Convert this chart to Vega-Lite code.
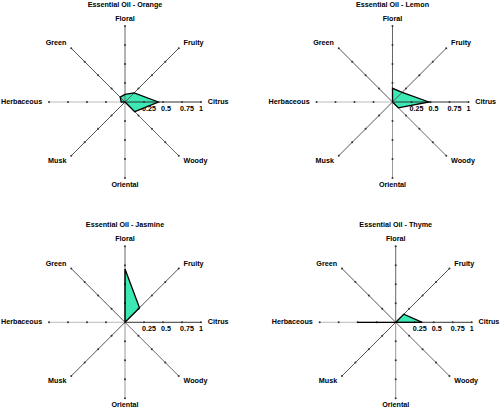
{
  "$schema": "https://vega.github.io/schema/vega-lite/v6.json",
  "padding": 0,
  "datasets": {
    "oils": [
      {"oil": "Orange", "attribute": "Citrus", "value": 0.44},
      {"oil": "Orange", "attribute": "Fruity", "value": 0.17},
      {"oil": "Orange", "attribute": "Floral", "value": 0.1},
      {"oil": "Orange", "attribute": "Green", "value": 0.09},
      {"oil": "Orange", "attribute": "Herbaceous", "value": 0.05},
      {"oil": "Orange", "attribute": "Musk", "value": 0},
      {"oil": "Orange", "attribute": "Oriental", "value": 0},
      {"oil": "Orange", "attribute": "Woody", "value": 0.18},
      {"oil": "Lemon", "attribute": "Citrus", "value": 0.48},
      {"oil": "Lemon", "attribute": "Fruity", "value": 0.18},
      {"oil": "Lemon", "attribute": "Floral", "value": 0.18},
      {"oil": "Lemon", "attribute": "Green", "value": 0},
      {"oil": "Lemon", "attribute": "Herbaceous", "value": 0},
      {"oil": "Lemon", "attribute": "Musk", "value": 0},
      {"oil": "Lemon", "attribute": "Oriental", "value": 0},
      {"oil": "Lemon", "attribute": "Woody", "value": 0.11},
      {"oil": "Jasmine", "attribute": "Citrus", "value": 0},
      {"oil": "Jasmine", "attribute": "Fruity", "value": 0.27},
      {"oil": "Jasmine", "attribute": "Floral", "value": 0.7},
      {"oil": "Jasmine", "attribute": "Green", "value": 0},
      {"oil": "Jasmine", "attribute": "Herbaceous", "value": 0},
      {"oil": "Jasmine", "attribute": "Musk", "value": 0},
      {"oil": "Jasmine", "attribute": "Oriental", "value": 0},
      {"oil": "Jasmine", "attribute": "Woody", "value": 0},
      {"oil": "Thyme", "attribute": "Citrus", "value": 0.35},
      {"oil": "Thyme", "attribute": "Fruity", "value": 0.15},
      {"oil": "Thyme", "attribute": "Floral", "value": 0},
      {"oil": "Thyme", "attribute": "Green", "value": 0},
      {"oil": "Thyme", "attribute": "Herbaceous", "value": 0.5},
      {"oil": "Thyme", "attribute": "Musk", "value": 0},
      {"oil": "Thyme", "attribute": "Oriental", "value": 0},
      {"oil": "Thyme", "attribute": "Woody", "value": 0}
    ],
    "spokes": [
      {"attribute": "Citrus", "r": [0.25, 0.5, 0.75, 1]},
      {"attribute": "Fruity", "r": [0.25, 0.5, 0.75, 1]},
      {"attribute": "Floral", "r": [0.25, 0.5, 0.75, 1]},
      {"attribute": "Green", "r": [0.25, 0.5, 0.75, 1]},
      {"attribute": "Herbaceous", "r": [0.25, 0.5, 0.75, 1]},
      {"attribute": "Musk", "r": [0.25, 0.5, 0.75, 1]},
      {"attribute": "Oriental", "r": [0.25, 0.5, 0.75, 1]},
      {"attribute": "Woody", "r": [0.25, 0.5, 0.75, 1]}
    ]
  },
  "columns": 2,
  "spacing": {"row": 40, "column": 0},
  "bounds": "flush",
  "concat": [
    {
      "width": 250,
      "height": 180,
      "title": {"text": "Essential Oil - Orange", "offset": 4},
      "encoding": {
        "x": {"field": "x", "type": "quantitative", "scale": {"domain": [-1.6447, 1.6447], "nice": false, "zero": false}, "axis": null},
        "y": {"field": "y", "type": "quantitative", "scale": {"domain": [-1.1842, 1.1842], "nice": false, "zero": false}, "axis": null}
      },
      "layer": [
        {
          "data": {"name": "spokes"},
          "transform": [
            {"flatten": ["r"]},
            {"filter": "datum.attribute == 'Citrus'"},
            {"calculate": "datum.r", "as": "x"},
            {"calculate": "0", "as": "y"}
          ],
          "mark": {"type": "text", "align": "left", "baseline": "top", "dx": -2, "dy": 3},
          "encoding": {"text": {"field": "r", "type": "quantitative", "format": ".2~f"}}
        },
        {
          "data": {"name": "oils"},
          "transform": [
            {"filter": "datum.oil == 'Orange'"},
            {"calculate": "indexof(['Citrus','Fruity','Floral','Green','Herbaceous','Musk','Oriental','Woody'], datum.attribute) * PI / 4", "as": "angle"},
            {"calculate": "datum.value * cos(datum.angle)", "as": "x"},
            {"calculate": "datum.value * sin(datum.angle)", "as": "y"}
          ],
          "mark": {"type": "line", "interpolate": "linear-closed", "fill": "#3ce8b4", "strokeOpacity": 0},
          "encoding": {"order": {"field": "angle", "type": "quantitative"}}
        },
        {
          "data": {"name": "spokes"},
          "transform": [
            {"calculate": "indexof(['Citrus','Fruity','Floral','Green','Herbaceous','Musk','Oriental','Woody'], datum.attribute) * PI / 4", "as": "angle"},
            {"calculate": "cos(datum.angle)", "as": "x"},
            {"calculate": "sin(datum.angle)", "as": "y"}
          ],
          "mark": {"type": "rule", "strokeWidth": 1},
          "encoding": {
            "x2": {"datum": 0},
            "y2": {"datum": 0},
            "color": {"field": "attribute", "type": "nominal", "legend": null, "scale": {"domain": ["Citrus", "Fruity", "Floral", "Green", "Herbaceous", "Musk", "Oriental", "Woody"], "range": ["#333333", "#555555", "#666666", "#555555", "#bbbbbb", "#555555", "#999999", "#666666"]}}
          }
        },
        {
          "data": {"name": "spokes"},
          "transform": [
            {"flatten": ["r"]},
            {"calculate": "indexof(['Citrus','Fruity','Floral','Green','Herbaceous','Musk','Oriental','Woody'], datum.attribute) * PI / 4", "as": "angle"},
            {"calculate": "datum.r * cos(datum.angle)", "as": "x"},
            {"calculate": "datum.r * sin(datum.angle)", "as": "y"}
          ],
          "mark": {"type": "point", "filled": true, "size": 4, "color": "#333333", "opacity": 1}
        },
        {
          "data": {"name": "oils"},
          "transform": [
            {"filter": "datum.oil == 'Orange'"},
            {"calculate": "indexof(['Citrus','Fruity','Floral','Green','Herbaceous','Musk','Oriental','Woody'], datum.attribute) * PI / 4", "as": "angle"},
            {"calculate": "datum.value * cos(datum.angle)", "as": "x"},
            {"calculate": "datum.value * sin(datum.angle)", "as": "y"}
          ],
          "mark": {"type": "line", "interpolate": "linear-closed", "stroke": "black", "strokeWidth": 1.3},
          "encoding": {"order": {"field": "angle", "type": "quantitative"}}
        },
        {
          "data": {"name": "spokes"},
          "transform": [
            {"calculate": "indexof(['Citrus','Fruity','Floral','Green','Herbaceous','Musk','Oriental','Woody'], datum.attribute) * PI / 4", "as": "angle"},
            {"calculate": "1.09 * cos(datum.angle)", "as": "x"},
            {"calculate": "1.09 * sin(datum.angle)", "as": "y"}
          ],
          "mark": {"type": "text", "baseline": "middle", "clip": true, "align": {"expr": "datum.x > 0.1 ? 'left' : datum.x < -0.1 ? 'right' : 'center'"}},
          "encoding": {"text": {"field": "attribute", "type": "nominal"}}
        }
      ]
    },
    {
      "width": 250,
      "height": 180,
      "title": {"text": "Essential Oil - Lemon", "offset": 4, "dx": 17.5},
      "encoding": {
        "x": {"field": "x", "type": "quantitative", "scale": {"domain": [-1.875, 1.4145], "nice": false, "zero": false}, "axis": null},
        "y": {"field": "y", "type": "quantitative", "scale": {"domain": [-1.1842, 1.1842], "nice": false, "zero": false}, "axis": null}
      },
      "layer": [
        {
          "data": {"name": "spokes"},
          "transform": [
            {"flatten": ["r"]},
            {"filter": "datum.attribute == 'Citrus'"},
            {"calculate": "datum.r", "as": "x"},
            {"calculate": "0", "as": "y"}
          ],
          "mark": {"type": "text", "align": "left", "baseline": "top", "dx": -2, "dy": 3},
          "encoding": {"text": {"field": "r", "type": "quantitative", "format": ".2~f"}}
        },
        {
          "data": {"name": "oils"},
          "transform": [
            {"filter": "datum.oil == 'Lemon'"},
            {"calculate": "indexof(['Citrus','Fruity','Floral','Green','Herbaceous','Musk','Oriental','Woody'], datum.attribute) * PI / 4", "as": "angle"},
            {"calculate": "datum.value * cos(datum.angle)", "as": "x"},
            {"calculate": "datum.value * sin(datum.angle)", "as": "y"}
          ],
          "mark": {"type": "line", "interpolate": "linear-closed", "fill": "#3ce8b4", "strokeOpacity": 0},
          "encoding": {"order": {"field": "angle", "type": "quantitative"}}
        },
        {
          "data": {"name": "spokes"},
          "transform": [
            {"calculate": "indexof(['Citrus','Fruity','Floral','Green','Herbaceous','Musk','Oriental','Woody'], datum.attribute) * PI / 4", "as": "angle"},
            {"calculate": "cos(datum.angle)", "as": "x"},
            {"calculate": "sin(datum.angle)", "as": "y"}
          ],
          "mark": {"type": "rule", "strokeWidth": 1},
          "encoding": {
            "x2": {"datum": 0},
            "y2": {"datum": 0},
            "color": {"field": "attribute", "type": "nominal", "legend": null, "scale": {"domain": ["Citrus", "Fruity", "Floral", "Green", "Herbaceous", "Musk", "Oriental", "Woody"], "range": ["#333333", "#555555", "#666666", "#555555", "#bbbbbb", "#555555", "#999999", "#666666"]}}
          }
        },
        {
          "data": {"name": "spokes"},
          "transform": [
            {"flatten": ["r"]},
            {"calculate": "indexof(['Citrus','Fruity','Floral','Green','Herbaceous','Musk','Oriental','Woody'], datum.attribute) * PI / 4", "as": "angle"},
            {"calculate": "datum.r * cos(datum.angle)", "as": "x"},
            {"calculate": "datum.r * sin(datum.angle)", "as": "y"}
          ],
          "mark": {"type": "point", "filled": true, "size": 4, "color": "#333333", "opacity": 1}
        },
        {
          "data": {"name": "oils"},
          "transform": [
            {"filter": "datum.oil == 'Lemon'"},
            {"calculate": "indexof(['Citrus','Fruity','Floral','Green','Herbaceous','Musk','Oriental','Woody'], datum.attribute) * PI / 4", "as": "angle"},
            {"calculate": "datum.value * cos(datum.angle)", "as": "x"},
            {"calculate": "datum.value * sin(datum.angle)", "as": "y"}
          ],
          "mark": {"type": "line", "interpolate": "linear-closed", "stroke": "black", "strokeWidth": 1.3},
          "encoding": {"order": {"field": "angle", "type": "quantitative"}}
        },
        {
          "data": {"name": "spokes"},
          "transform": [
            {"calculate": "indexof(['Citrus','Fruity','Floral','Green','Herbaceous','Musk','Oriental','Woody'], datum.attribute) * PI / 4", "as": "angle"},
            {"calculate": "1.09 * cos(datum.angle)", "as": "x"},
            {"calculate": "1.09 * sin(datum.angle)", "as": "y"}
          ],
          "mark": {"type": "text", "baseline": "middle", "clip": true, "align": {"expr": "datum.x > 0.1 ? 'left' : datum.x < -0.1 ? 'right' : 'center'"}},
          "encoding": {"text": {"field": "attribute", "type": "nominal"}}
        }
      ]
    },
    {
      "width": 250,
      "height": 177,
      "title": {"text": "Essential Oil - Jasmine", "offset": 4},
      "encoding": {
        "x": {"field": "x", "type": "quantitative", "scale": {"domain": [-1.6447, 1.6447], "nice": false, "zero": false}, "axis": null},
        "y": {"field": "y", "type": "quantitative", "scale": {"domain": [-1.141, 1.188], "nice": false, "zero": false}, "axis": null}
      },
      "layer": [
        {
          "data": {"name": "spokes"},
          "transform": [
            {"flatten": ["r"]},
            {"filter": "datum.attribute == 'Citrus'"},
            {"calculate": "datum.r", "as": "x"},
            {"calculate": "0", "as": "y"}
          ],
          "mark": {"type": "text", "align": "left", "baseline": "top", "dx": -2, "dy": 3},
          "encoding": {"text": {"field": "r", "type": "quantitative", "format": ".2~f"}}
        },
        {
          "data": {"name": "oils"},
          "transform": [
            {"filter": "datum.oil == 'Jasmine'"},
            {"calculate": "indexof(['Citrus','Fruity','Floral','Green','Herbaceous','Musk','Oriental','Woody'], datum.attribute) * PI / 4", "as": "angle"},
            {"calculate": "datum.value * cos(datum.angle)", "as": "x"},
            {"calculate": "datum.value * sin(datum.angle)", "as": "y"}
          ],
          "mark": {"type": "line", "interpolate": "linear-closed", "fill": "#3ce8b4", "strokeOpacity": 0},
          "encoding": {"order": {"field": "angle", "type": "quantitative"}}
        },
        {
          "data": {"name": "spokes"},
          "transform": [
            {"calculate": "indexof(['Citrus','Fruity','Floral','Green','Herbaceous','Musk','Oriental','Woody'], datum.attribute) * PI / 4", "as": "angle"},
            {"calculate": "cos(datum.angle)", "as": "x"},
            {"calculate": "sin(datum.angle)", "as": "y"}
          ],
          "mark": {"type": "rule", "strokeWidth": 1},
          "encoding": {
            "x2": {"datum": 0},
            "y2": {"datum": 0},
            "color": {"field": "attribute", "type": "nominal", "legend": null, "scale": {"domain": ["Citrus", "Fruity", "Floral", "Green", "Herbaceous", "Musk", "Oriental", "Woody"], "range": ["#333333", "#555555", "#666666", "#555555", "#bbbbbb", "#555555", "#999999", "#666666"]}}
          }
        },
        {
          "data": {"name": "spokes"},
          "transform": [
            {"flatten": ["r"]},
            {"calculate": "indexof(['Citrus','Fruity','Floral','Green','Herbaceous','Musk','Oriental','Woody'], datum.attribute) * PI / 4", "as": "angle"},
            {"calculate": "datum.r * cos(datum.angle)", "as": "x"},
            {"calculate": "datum.r * sin(datum.angle)", "as": "y"}
          ],
          "mark": {"type": "point", "filled": true, "size": 4, "color": "#333333", "opacity": 1}
        },
        {
          "data": {"name": "oils"},
          "transform": [
            {"filter": "datum.oil == 'Jasmine'"},
            {"calculate": "indexof(['Citrus','Fruity','Floral','Green','Herbaceous','Musk','Oriental','Woody'], datum.attribute) * PI / 4", "as": "angle"},
            {"calculate": "datum.value * cos(datum.angle)", "as": "x"},
            {"calculate": "datum.value * sin(datum.angle)", "as": "y"}
          ],
          "mark": {"type": "line", "interpolate": "linear-closed", "stroke": "black", "strokeWidth": 1.3},
          "encoding": {"order": {"field": "angle", "type": "quantitative"}}
        },
        {
          "data": {"name": "spokes"},
          "transform": [
            {"calculate": "indexof(['Citrus','Fruity','Floral','Green','Herbaceous','Musk','Oriental','Woody'], datum.attribute) * PI / 4", "as": "angle"},
            {"calculate": "1.09 * cos(datum.angle)", "as": "x"},
            {"calculate": "1.09 * sin(datum.angle)", "as": "y"}
          ],
          "mark": {"type": "text", "baseline": "middle", "clip": true, "align": {"expr": "datum.x > 0.1 ? 'left' : datum.x < -0.1 ? 'right' : 'center'"}},
          "encoding": {"text": {"field": "attribute", "type": "nominal"}}
        }
      ]
    },
    {
      "width": 250,
      "height": 177,
      "title": {"text": "Essential Oil - Thyme", "offset": 4, "dx": 20.7},
      "encoding": {
        "x": {"field": "x", "type": "quantitative", "scale": {"domain": [-1.917, 1.372], "nice": false, "zero": false}, "axis": null},
        "y": {"field": "y", "type": "quantitative", "scale": {"domain": [-1.141, 1.188], "nice": false, "zero": false}, "axis": null}
      },
      "layer": [
        {
          "data": {"name": "spokes"},
          "transform": [
            {"flatten": ["r"]},
            {"filter": "datum.attribute == 'Citrus'"},
            {"calculate": "datum.r", "as": "x"},
            {"calculate": "0", "as": "y"}
          ],
          "mark": {"type": "text", "align": "left", "baseline": "top", "dx": -2, "dy": 3},
          "encoding": {"text": {"field": "r", "type": "quantitative", "format": ".2~f"}}
        },
        {
          "data": {"name": "oils"},
          "transform": [
            {"filter": "datum.oil == 'Thyme'"},
            {"calculate": "indexof(['Citrus','Fruity','Floral','Green','Herbaceous','Musk','Oriental','Woody'], datum.attribute) * PI / 4", "as": "angle"},
            {"calculate": "datum.value * cos(datum.angle)", "as": "x"},
            {"calculate": "datum.value * sin(datum.angle)", "as": "y"}
          ],
          "mark": {"type": "line", "interpolate": "linear-closed", "fill": "#3ce8b4", "strokeOpacity": 0},
          "encoding": {"order": {"field": "angle", "type": "quantitative"}}
        },
        {
          "data": {"name": "spokes"},
          "transform": [
            {"calculate": "indexof(['Citrus','Fruity','Floral','Green','Herbaceous','Musk','Oriental','Woody'], datum.attribute) * PI / 4", "as": "angle"},
            {"calculate": "cos(datum.angle)", "as": "x"},
            {"calculate": "sin(datum.angle)", "as": "y"}
          ],
          "mark": {"type": "rule", "strokeWidth": 1},
          "encoding": {
            "x2": {"datum": 0},
            "y2": {"datum": 0},
            "color": {"field": "attribute", "type": "nominal", "legend": null, "scale": {"domain": ["Citrus", "Fruity", "Floral", "Green", "Herbaceous", "Musk", "Oriental", "Woody"], "range": ["#333333", "#555555", "#666666", "#555555", "#bbbbbb", "#555555", "#999999", "#666666"]}}
          }
        },
        {
          "data": {"name": "spokes"},
          "transform": [
            {"flatten": ["r"]},
            {"calculate": "indexof(['Citrus','Fruity','Floral','Green','Herbaceous','Musk','Oriental','Woody'], datum.attribute) * PI / 4", "as": "angle"},
            {"calculate": "datum.r * cos(datum.angle)", "as": "x"},
            {"calculate": "datum.r * sin(datum.angle)", "as": "y"}
          ],
          "mark": {"type": "point", "filled": true, "size": 4, "color": "#333333", "opacity": 1}
        },
        {
          "data": {"name": "oils"},
          "transform": [
            {"filter": "datum.oil == 'Thyme'"},
            {"calculate": "indexof(['Citrus','Fruity','Floral','Green','Herbaceous','Musk','Oriental','Woody'], datum.attribute) * PI / 4", "as": "angle"},
            {"calculate": "datum.value * cos(datum.angle)", "as": "x"},
            {"calculate": "datum.value * sin(datum.angle)", "as": "y"}
          ],
          "mark": {"type": "line", "interpolate": "linear-closed", "stroke": "black", "strokeWidth": 1.3},
          "encoding": {"order": {"field": "angle", "type": "quantitative"}}
        },
        {
          "data": {"name": "spokes"},
          "transform": [
            {"calculate": "indexof(['Citrus','Fruity','Floral','Green','Herbaceous','Musk','Oriental','Woody'], datum.attribute) * PI / 4", "as": "angle"},
            {"calculate": "1.09 * cos(datum.angle)", "as": "x"},
            {"calculate": "1.09 * sin(datum.angle)", "as": "y"}
          ],
          "mark": {"type": "text", "baseline": "middle", "clip": true, "align": {"expr": "datum.x > 0.1 ? 'left' : datum.x < -0.1 ? 'right' : 'center'"}},
          "encoding": {"text": {"field": "attribute", "type": "nominal"}}
        }
      ]
    }
  ],
  "config": {
    "view": {"stroke": null},
    "title": {"font": "Liberation Sans", "fontSize": 7.2, "fontWeight": "bold", "color": "black"},
    "text": {"font": "Liberation Sans", "fontSize": 7.2, "fontWeight": "bold", "color": "black"}
  }
}
